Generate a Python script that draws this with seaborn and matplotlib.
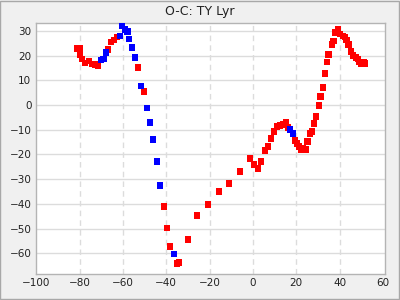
import matplotlib
matplotlib.use("Agg")
import matplotlib.pyplot as plt
from matplotlib.ticker import MultipleLocator
from matplotlib.patches import Rectangle
import seaborn as sns
import pandas as pd

red_x = [-80.9, -80.0, -79.7, -78.8, -77.4, -75.6, -74.2, -72.8, -71.4, -66.8, -65.4, -64.1,
         -62.7, -53.1, -50.2, -41.0, -39.6, -38.2, -35.0, -34.1, -30.0, -25.8, -20.7, -15.7,
         -11.1, -6.0, -1.4, 0.5, 2.3, 3.7, 5.5, 6.9, 8.3, 9.7, 11.1, 12.4, 13.8, 15.2, 16.1,
         19.4, 20.3, 21.2, 22.1, 23.0, 24.4, 25.3, 26.3, 27.2, 28.1, 29.0, 30.4, 31.3, 32.3,
         33.2, 34.1, 35.0, 36.4, 37.3, 38.2, 39.2, 40.1, 41.5, 42.4, 43.3, 44.2, 45.2, 46.1,
         47.5, 48.4, 49.3, 50.2, 51.2, 51.8]
red_y = [22.8, 22.8, 20.4, 18.7, 17.1, 17.9, 16.7, 16.3, 15.9, 22.4, 25.6, 26.4,
         27.6, 15.1, 5.4, -41.1, -49.9, -57.2, -64.1, -63.7, -54.4, -44.7, -40.2, -35.0,
         -31.8, -26.9, -21.7, -24.1, -25.7, -22.9, -18.4, -16.8, -13.6, -10.7, -8.7, -8.3,
         -7.9, -7.1, -9.1, -14.4, -15.6, -16.8, -18.0, -17.6, -18.0, -14.8, -11.6, -10.8,
         -7.5, -4.7, -0.2, 3.4, 7.0, 12.7, 17.5, 20.4, 24.4, 26.0, 29.3, 30.5, 28.8, 28.0,
         27.6, 26.4, 24.4, 21.6, 20.0, 19.2, 18.7, 17.5, 16.7, 17.5, 16.8]
blue_x = [-70.0, -68.9, -67.7, -61.3, -60.4, -59.0, -57.9, -57.1, -55.8, -54.4, -51.6,
          -48.9, -47.5, -46.1, -44.2, -42.9, -36.4, 17.1, 18.4]
blue_y = [18.3, 18.7, 21.2, 28.0, 32.2, 30.5, 29.7, 26.8, 23.2, 19.2, 7.8,
          -1.1, -7.1, -14.0, -22.9, -32.6, -60.4, -9.9, -11.6]

df = pd.DataFrame({
    "E": red_x + blue_x,
    "OC": red_y + blue_y,
    "kind": ["red"] * len(red_x) + ["blue"] * len(blue_x),
})

sns.set_style("white")
plt.rcParams["font.family"] = ["DejaVu Sans"]

fig = plt.figure(figsize=(4, 3), dpi=100, facecolor="#f0f0f0")
fig.patches.append(Rectangle((0.0012, 0.0017), 0.9975, 0.9966, transform=fig.transFigure,
                             fill=False, edgecolor="#a8a8a8", lw=1, zorder=0))
ax = fig.add_axes([0.089, 0.0857, 0.8735, 0.8363])
ax.set_facecolor("white")

sns.scatterplot(data=df, x="E", y="OC", hue="kind",
                palette={"red": "#ff0000", "blue": "#0000ff"},
                marker="s", s=21, linewidth=0, legend=False, ax=ax, zorder=3)

ax.set_xlim(-100.3, 61)
ax.set_ylim(-68.5, 33)
ax.xaxis.set_major_locator(MultipleLocator(20))
ax.xaxis.set_minor_locator(MultipleLocator(10))
ax.yaxis.set_major_locator(MultipleLocator(10))
ax.yaxis.set_minor_locator(MultipleLocator(5))

ax.grid(False)
for v in range(-80, 60, 20):
    ax.axvline(v, color="#dcdcdc", lw=1, ls=(0, (4, 3)), zorder=1)
for v in range(-60, 40, 10):
    ax.axhline(v, color="#dcdcdc", lw=1, ls="-", zorder=1)

ax.tick_params(axis="both", which="major", direction="in", length=4, width=0.8,
               color="#222222", labelsize=7.5, labelcolor="#222222", pad=3)
ax.tick_params(axis="both", which="minor", direction="in", length=2.5, width=0.8,
               color="#222222")
ax.tick_params(top=False, right=False)
for s in ax.spines.values():
    s.set_color("#b4b4b4")
    s.set_linewidth(1)

ax.set_xlabel("")
ax.set_ylabel("")
fig.text(0.5, 0.96, "O-C: TY Lyr", ha="center", va="center", fontsize=9, color="#222222")

fig.savefig("out.png", dpi=100, facecolor=fig.get_facecolor())
